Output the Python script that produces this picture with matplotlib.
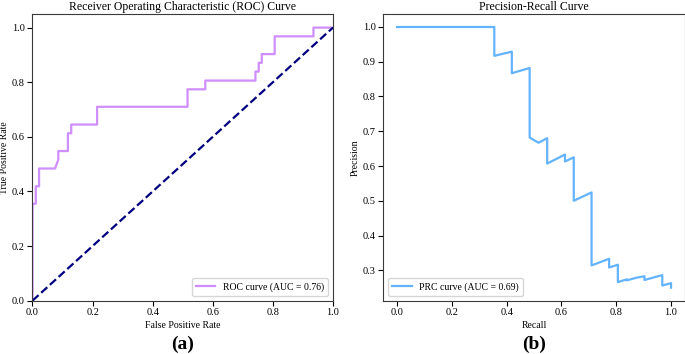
import matplotlib

matplotlib.use("Agg")
import matplotlib.pyplot as plt

# ROC curve points
fpr = [0.0, 0.0, 0.011, 0.011, 0.022, 0.022, 0.075, 0.086, 0.086, 0.118,
       0.118, 0.129, 0.129, 0.215, 0.215, 0.516, 0.516, 0.575, 0.575, 0.742,
       0.742, 0.753, 0.753, 0.763, 0.763, 0.806, 0.806, 0.935, 0.935, 1.0]
tpr = [0.0, 0.355, 0.355, 0.419, 0.419, 0.484, 0.484, 0.516, 0.548, 0.548,
       0.613, 0.613, 0.645, 0.645, 0.710, 0.710, 0.774, 0.774, 0.806, 0.806,
       0.839, 0.839, 0.871, 0.871, 0.903, 0.903, 0.968, 0.968, 1.0, 1.0]
roc_auc = 0.76

# Precision-recall points
recall = [0.0, 0.355, 0.355, 0.419, 0.419, 0.484, 0.484, 0.516, 0.548, 0.548,
          0.613, 0.613, 0.645, 0.645, 0.710, 0.710, 0.774, 0.774, 0.806, 0.806,
          0.839, 0.839, 0.871, 0.903, 0.903, 0.935, 0.968, 0.968, 1.0, 1.0]
precision = [1.0, 1.0, 0.917, 0.929, 0.867, 0.882, 0.682, 0.667, 0.680, 0.607,
             0.633, 0.613, 0.625, 0.500, 0.524, 0.314, 0.333, 0.308, 0.316, 0.266,
             0.274, 0.271, 0.278, 0.283, 0.272, 0.279, 0.286, 0.256, 0.263, 0.250]
prc_auc = 0.69

_ROC_COLOR = "#d08dfc"
_PRC_COLOR = "#63b3ff"

plt.rcParams["font.family"] = ["Liberation Serif", "DejaVu Serif"]

fig = plt.figure(figsize=(6.85, 3.54), dpi=100)
ax_roc = fig.add_axes([0.0474, 0.1506, 0.4387, 0.810])
ax_prc = fig.add_axes([0.5596, 0.1506, 0.4400, 0.810])

ax_roc.plot(fpr, tpr, color=_ROC_COLOR, lw=1.6,
            label=f"ROC curve (AUC = {roc_auc:.2f})")
ax_roc.plot([0, 1], [0, 1], color="navy", lw=1.6, linestyle="--")
ax_roc.set_xlim(0.0, 1.0)
ax_roc.set_ylim(0.0, 1.05)
ax_roc.set_xlabel("False Positive Rate", fontsize=7, labelpad=3)
ax_roc.set_ylabel("True Positive Rate", fontsize=7, labelpad=2)
ax_roc.set_title("Receiver Operating Characteristic (ROC) Curve", fontsize=8.5, pad=3)
ax_roc.legend(loc="lower right", fontsize=7)

ax_prc.plot(recall, precision, color=_PRC_COLOR, lw=1.6,
            label=f"PRC curve (AUC = {prc_auc:.2f})")
ax_prc.set_xlabel("Recall", fontsize=7, labelpad=3)
ax_prc.set_ylabel("Precision", fontsize=7, labelpad=2)
ax_prc.set_title("Precision-Recall Curve", fontsize=8.5, pad=3)
ax_prc.legend(loc="lower left", fontsize=7)

for ax in (ax_roc, ax_prc):
    ax.tick_params(labelsize=7.5, length=3.5, pad=2)
    for spine in ax.spines.values():
        spine.set_color("#3a3a3a")

fig.text(0.2667, 0.028, "(a)", ha="center", va="center", fontsize=14, fontweight="bold")
fig.text(0.7796, 0.028, "(b)", ha="center", va="center", fontsize=14, fontweight="bold")

fig.savefig("out.png", dpi=100)
plt.close(fig)
